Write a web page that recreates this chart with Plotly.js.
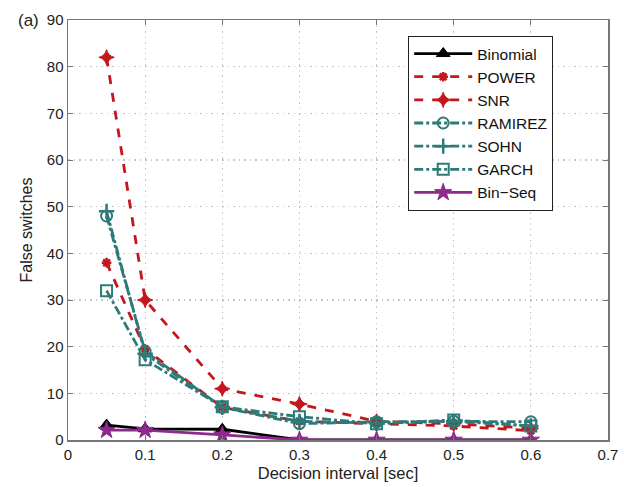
<!DOCTYPE html>
<html><head><meta charset="utf-8">
<script src="https://cdn.plot.ly/plotly-3.0.1.min.js"></script>
<style>body{margin:0;background:#fff}#c{width:624px;height:487px}</style>
</head><body><div id="c"></div>
<script>
const x = [0.05, 0.1, 0.2, 0.3, 0.4, 0.5, 0.6];
const binomial = [3.2, 2.4, 2.3, 0, 0, 0, 0];
const power = [38, 19.5, 7, 4, 3.5, 3, 2];
const snr = [82, 30, 11, 7.7, 4, 3.5, 2.5];
const ramirez = [48, 19, 7, 3.5, 3.9, 4, 3.9];
const sohn = [49, 18.5, 7, 4, 3.6, 4, 3];
const garch = [32, 17.2, 7.1, 5, 3.5, 4.3, 3];
const binseq = [2.1, 2.1, 1.1, 0, 0, 0, 0];

const red = '#c4161c', teal = '#2d7a78', purple = '#8e2a8e';
function tr(name, y, color, dash, sym, msize, mline, mfill) {
  return {x: x, y: y, name: name, type: 'scatter', mode: 'lines+markers',
    line: {color: color, width: 2.8, dash: dash},
    marker: {symbol: sym, size: msize, color: mfill || color, line: {color: color, width: mline}}};
}
const data = [
  tr('Binomial', binomial, '#000', 'solid', 'triangle-up', 12, 1),
  tr('POWER', power, red, 'dash', 'asterisk', 8, 2.5),
  tr('SNR', snr, red, 'dash', 'star-diamond', 11, 1),
  tr('RAMIREZ', ramirez, teal, 'dashdot', 'circle-open', 11, 2),
  tr('SOHN', sohn, teal, 'dashdot', 'cross-thin-open', 11, 2.5),
  tr('GARCH', garch, teal, 'dashdot', 'square-open', 11, 2),
  tr('Bin\u2212Seq', binseq, purple, 'solid', 'star', 13, 1)
];
const axcol = '#777';
const layout = {
  width: 624, height: 487,
  margin: {l: 68, r: 16, t: 20, b: 47},
  paper_bgcolor: '#fff', plot_bgcolor: '#fff',
  font: {family: 'Liberation Sans, Arial, sans-serif', size: 15, color: '#222'},
  showlegend: true,
  legend: {x: 0.63, y: 0.962, xanchor: 'left', yanchor: 'top', bgcolor: '#fff',
    bordercolor: '#222', borderwidth: 1, font: {size: 15.5, color: '#111'},
    tracegroupgap: 0, itemwidth: 58},
  xaxis: {range: [0, 0.7], dtick: 0.1, tick0: 0, showgrid: true, gridcolor: '#c4c4c4', griddash: '1.5px,4px',
    gridwidth: 1.2, zeroline: false, showline: true, linecolor: axcol, linewidth: 1.5, mirror: 'ticks',
    ticks: 'inside', ticklen: 5, tickcolor: axcol, tickfont: {size: 15},
    title: {text: 'Decision interval [sec]', font: {size: 16.5}, standoff: 6}},
  yaxis: {range: [0, 90], dtick: 10, showgrid: true, gridcolor: '#c4c4c4', griddash: '1.5px,4px',
    gridwidth: 1.2, zeroline: false, showline: true, linecolor: axcol, linewidth: 1.5, mirror: 'ticks',
    ticks: 'inside', ticklen: 5, tickcolor: axcol, tickfont: {size: 15},
    title: {text: 'False switches', font: {size: 16}, standoff: 10}},
  annotations: [{text: '(a)', xref: 'paper', yref: 'paper', x: -0.05, y: 1.0, xanchor: 'right', yanchor: 'middle',
    showarrow: false, font: {size: 17, color: '#222'}}]
};
Plotly.newPlot('c', data, layout, {displayModeBar: false, staticPlot: true});
</script></body></html>
